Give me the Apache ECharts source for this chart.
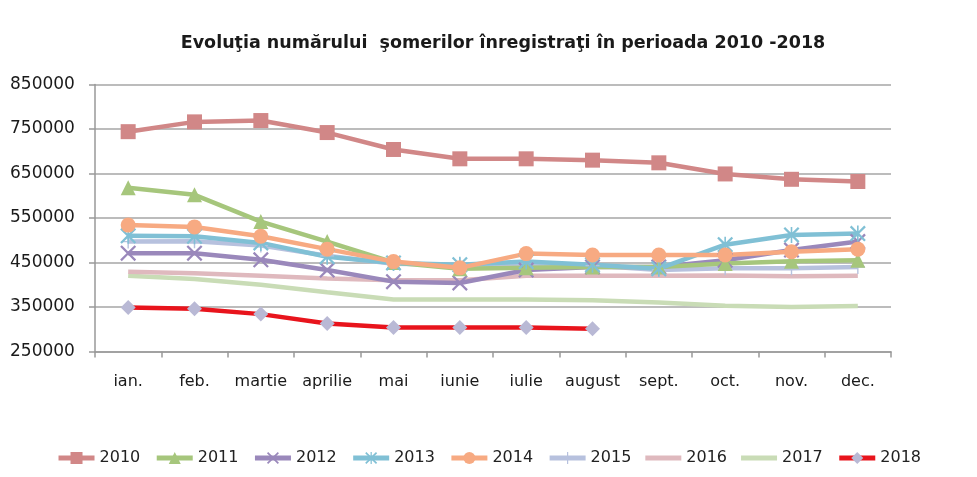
<!DOCTYPE html>
<html>
<head>
<meta charset="utf-8">
<script src="https://cdn.jsdelivr.net/npm/echarts@6/dist/echarts.min.js"></script>
<style>
  html, body { margin: 0; padding: 0; background: #fff; }
  #chart { width: 977px; height: 477px; }
</style>
</head>
<body>
<div id="chart"></div>
<script>
// categories and values
const months = ['ian.', 'feb.', 'martie', 'aprilie', 'mai', 'iunie', 'iulie', 'august', 'sept.', 'oct.', 'nov.', 'dec.']
const yTicks = [250000, 350000, 450000, 550000, 650000, 750000, 850000]
const years = ['2010', '2011', '2012', '2013', '2014', '2015', '2016', '2017', '2018']

const y2010 = [744000, 766000, 769000, 742000, 704000, 683000, 683000, 680000, 674000, 649000, 637000, 632000]
const y2011 = [618000, 602000, 542000, 497000, 450000, 436000, 438000, 440000, 440000, 448000, 453000, 455000]
const y2012 = [471000, 471000, 456000, 433000, 407000, 404000, 433000, 440000, 440000, 455000, 478000, 497000]
const y2013 = [510000, 509000, 494000, 463000, 449000, 445000, 452000, 445000, 436000, 490000, 512000, 515000]
const y2014 = [534000, 530000, 509000, 480000, 452000, 438000, 470000, 467000, 467000, 467000, 474000, 480000]
const y2015 = [497000, 498000, 488000, 465000, 447000, 445000, 446000, 443000, 433000, 437000, 437000, 440000]
const y2016 = [429000, 426000, 420000, 414000, 410000, 410000, 420000, 420000, 420000, 421000, 419000, 420000]
const y2017 = [420000, 413000, 400000, 383000, 367000, 367000, 367000, 365000, 360000, 353000, 350000, 352000]
const y2018 = [349000, 346000, 334000, 313000, 304000, 304000, 304000, 301000]

const xMark = 'path://M2,0L10,8L18,0L20,2L12,10L20,18L18,20L10,12L2,20L0,18L8,10L0,2Z'
const starMark = 'path://M2,0L10,8L18,0L20,2L12,10L20,18L18,20L10,12L2,20L0,18L8,10L0,2ZM9,0L11,0L11,20L9,20Z'
const plusMark = 'path://M9,0L11,0L11,9L20,9L20,11L11,11L11,20L9,20L9,11L0,11L0,9L9,9Z'
// plain bar for the legend of the series without markers
const barIcon = 'path://M0,0L72,0ZM0,10L72,10L72,20L0,20ZM0,30L72,30Z'

function line(name, data, color, symbol, size, symColor) {
    return {
        name: name,
        type: 'line',
        data: data,
        symbol: symbol,
        symbolSize: size,
        showAllSymbol: true,
        lineStyle: { color: color, width: 4.5 },
        itemStyle: { color: symColor || color },
        emphasis: { disabled: true }
    }
}

const myChart = echarts.init(document.getElementById('chart'))
myChart.setOption({
    animation: false,
    title: {
        text: 'Evoluţia numărului  şomerilor înregistraţi în perioada 2010 -2018',
        left: 498,
        textAlign: 'center',
        top: 29,
        textStyle: { fontFamily: 'DejaVu Sans', fontSize: 17.5, fontWeight: 'bold', color: '#1a1a1a' }
    },
    legend: {
        data: years.map(y => (y === '2016' || y === '2017') ? { name: y, icon: barIcon } : y),
        bottom: 6,
        left: 'center',
        itemWidth: 36,
        itemHeight: 15,
        itemGap: 14,
        lineStyle: { width: 5 },
        textStyle: { fontFamily: 'DejaVu Sans', fontSize: 16, color: '#222' }
    },
    grid: { left: 95, right: 86, top: 84.5, bottom: 125.5 },
    xAxis: {
        type: 'category',
        data: months,
        boundaryGap: true,
        axisLine: { lineStyle: { color: '#999', width: 1.5 } },
        axisTick: { show: true, length: 6, lineStyle: { color: '#999', width: 1.5 } },
        axisLabel: {
            interval: 0,
            hideOverlap: false,
            margin: 22,
            fontFamily: 'DejaVu Sans',
            fontSize: 16,
            color: '#1a1a1a'
        }
    },
    yAxis: {
        type: 'value',
        min: yTicks[0],
        max: yTicks[yTicks.length - 1],
        interval: 100000,
        axisLine: { show: true, lineStyle: { color: '#999', width: 1.5 } },
        axisTick: { show: true, length: 6, lineStyle: { color: '#999', width: 1.5 } },
        splitLine: { lineStyle: { color: '#a6a6a6', width: 1.5 } },
        axisLabel: {
            align: 'left',
            margin: 85,
            fontFamily: 'DejaVu Sans',
            fontSize: 17,
            color: '#1a1a1a',
            formatter: v => String(v)
        }
    },
    series: [
        line('2017', y2017, '#c9dcb6', 'none', 0),
        line('2016', y2016, '#dfb9be', 'none', 0),
        line('2015', y2015, '#b7c1de', plusMark, 14),
        line('2012', y2012, '#9a88bb', xMark, 16),
        line('2011', y2011, '#a6c67c', 'triangle', 15),
        line('2013', y2013, '#80c0d5', starMark, 16),
        line('2014', y2014, '#f7aa82', 'circle', 15),
        line('2010', y2010, '#d18787', 'rect', 15),
        line('2018', y2018, '#e8141c', 'diamond', 15, '#b9b9d5')
    ]
})
</script>
</body>
</html>
